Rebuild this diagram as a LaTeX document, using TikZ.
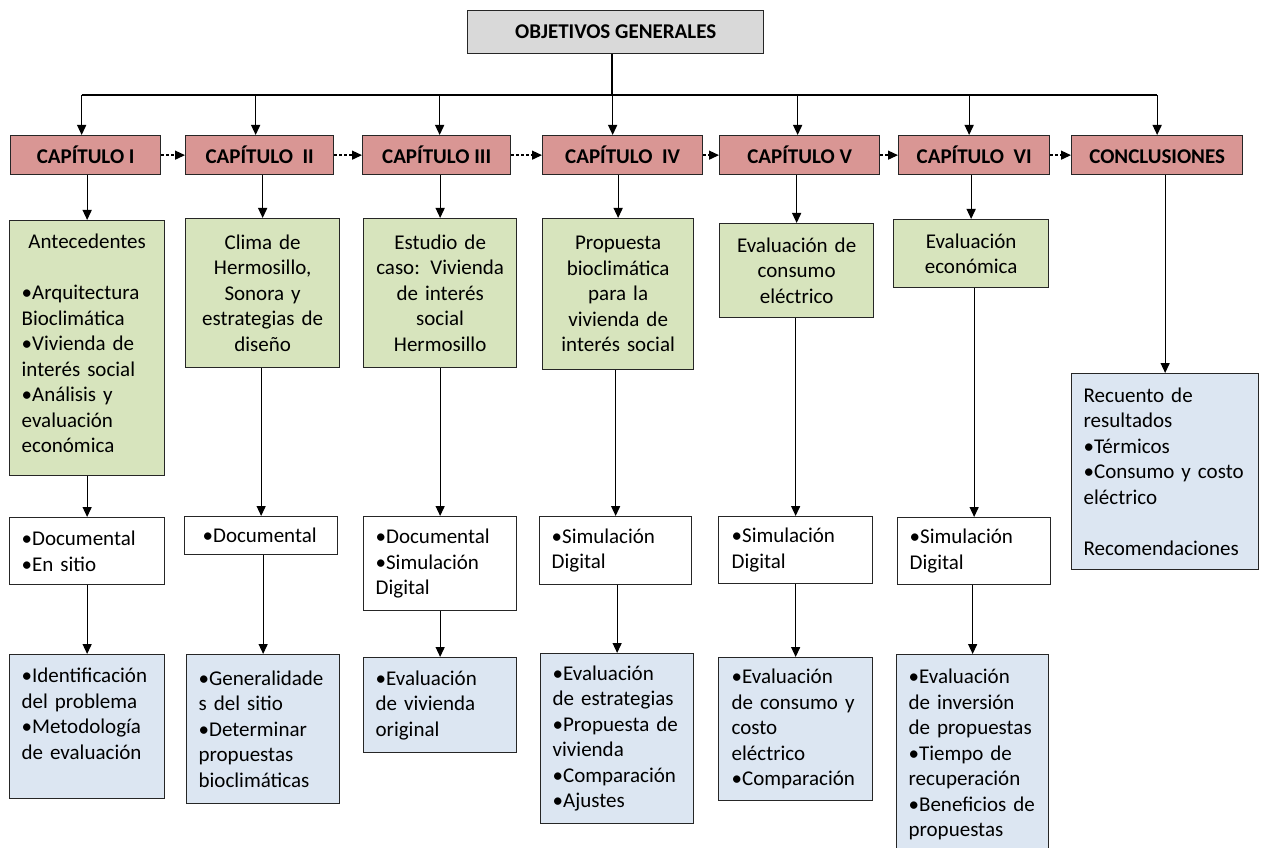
\documentclass[tikz,border=0pt]{standalone}
\usepackage{fontspec}
\setmainfont{Carlito}
\usetikzlibrary{arrows.meta}
\definecolor{chapred}{HTML}{D99694}
\definecolor{boxgreen}{HTML}{D7E4BD}
\definecolor{boxblue}{HTML}{DCE6F2}
\definecolor{boxgray}{HTML}{D9D9D9}
\definecolor{edge}{HTML}{262626}
\begin{document}
\begin{tikzpicture}[x=1pt,y=-1pt,
  every node/.style={font=\fontsize{21}{25.5}\selectfont},
  base/.style={draw=edge, line width=1.3pt, anchor=north west, inner xsep=12pt, inner ysep=4pt},
  topbox/.style={base, fill=boxgray, font=\fontsize{21}{25.5}\selectfont\bfseries, align=center},
  chap/.style={base, fill=chapred, font=\fontsize{21}{25.5}\selectfont\bfseries, align=center, inner xsep=2pt, inner ysep=0pt, text height=18pt, text depth=1pt},
  gbox/.style={base, fill=boxgreen, align=center},
  wbox/.style={base, fill=white, align=left},
  bbox/.style={base, fill=boxblue, align=left},
  conn/.style={line width=1.3pt, draw=black, -{Triangle[length=10pt,width=9pt]}},
  dconn/.style={conn, dash pattern=on 3pt off 2pt},
  plain/.style={line width=1.3pt, draw=black}
]
\fill[white] (0,0) rectangle (1262,848);
\useasboundingbox (0,0) rectangle (1262,848);
\clip (0,0) rectangle (1262,848);

% top
\node[topbox, minimum width=296, minimum height=43] (top) at (467,10) {OBJETIVOS GENERALES};

% chapters
\node[chap, minimum width=150, minimum height=39] (c1) at (10,135) {CAPÍTULO I};
\node[chap, minimum width=148, minimum height=39] (c2) at (185,135) {CAPÍTULO\ \ II};
\node[chap, minimum width=148, minimum height=39] (c3) at (362,135) {CAPÍTULO III};
\node[chap, minimum width=160, minimum height=39] (c4) at (542,135) {CAPÍTULO\ \ IV};
\node[chap, minimum width=160, minimum height=39] (c5) at (719,135) {CAPÍTULO V};
\node[chap, minimum width=151, minimum height=39] (c6) at (898,135) {CAPÍTULO\ \ VI};
\node[chap, minimum width=171, minimum height=39] (c7) at (1071,135) {CONCLUSIONES};

% green boxes
\node[gbox, align=left, text width=131, text height=24pt, text depth=223pt] (g1) at (9,220)
  {\makebox[131pt][c]{Antecedentes}\\[25.5pt]•Arquitectura\\Bioclimática\\•Vivienda de\\interés social\\•Análisis y\\evaluación\\económica};
\node[gbox, text width=130, minimum height=149] (g2) at (185,218)
  {Clima de\\Hermosillo,\\Sonora y\\estrategias de\\diseño};
\node[gbox, text width=129, minimum height=149] (g3) at (363,218)
  {Estudio de\\caso: Vivienda\\de interés\\social\\Hermosillo};
\node[gbox, text width=127, minimum height=151] (g4) at (542,218)
  {Propuesta\\bioclimática\\para la\\vivienda de\\interés social};
\node[gbox, text width=130, minimum height=94] (g5) at (719,223)
  {Evaluación de\\consumo\\eléctrico};
\node[gbox, text width=131, minimum height=68] (g6) at (893,219)
  {Evaluación\\económica};

% white boxes
\node[wbox, text width=131, minimum height=67] (w1) at (9,517) {•Documental\\•En sitio};
\node[wbox, minimum height=38, inner xsep=18pt, text width=117] (w2) at (184,516) {•Documental};
\node[wbox, text width=129, minimum height=94] (w3) at (363,516) {•Documental\\•Simulación\\Digital};
\node[wbox, text width=128, minimum height=68] (w4) at (539,516) {•Simulación\\Digital};
\node[wbox, minimum height=67, inner xsep=13pt, text width=128] (w5) at (718,516) {•Simulación\\Digital};
\node[wbox, text width=129, minimum height=67] (w6) at (897,517) {•Simulación\\Digital};

% blue boxes
\node[bbox, text width=131, text height=24pt, text depth=112pt] (b1) at (9,654)
  {•Identificación\\del problema\\•Metodología\\de evaluación};
\node[bbox, text width=129, minimum height=149] (b2) at (186,654)
  {•Generalidade\\s del sitio\\•Determinar\\propuestas\\bioclimáticas};
\node[bbox, text width=129, minimum height=95] (b3) at (363,657)
  {•Evaluación\\de vivienda\\original};
\node[bbox, text width=129, minimum height=170] (b4) at (540,653)
  {•Evaluación\\de estrategias\\•Propuesta de\\vivienda\\•Comparación\\•Ajustes};
\node[bbox, minimum height=143, inner xsep=13pt, text width=128] (b5) at (718,657)
  {•Evaluación\\de consumo y\\costo\\eléctrico\\•Comparación};
\node[bbox, text width=128, text height=25pt, text depth=220pt] (b6) at (896,654)
  {•Evaluación\\de inversión\\de propuestas\\•Tiempo de\\recuperación\\•Beneficios de\\propuestas};
\node[bbox, text width=163, minimum height=196] (b7) at (1071,373)
  {Recuento de\\resultados\\•Térmicos\\•Consumo y costo\\eléctrico\\[25.5pt]Recomendaciones};

% trunk
\coordinate (bar) at (612,95);
\draw[plain] (top.south -| bar) -- (bar);
\draw[plain] ([xshift=-4pt]c1.north |- bar) -- (c7.north |- bar);
\draw[conn] ([xshift=-4pt]c1.north |- bar) -- ([xshift=-4pt]c1.north);
\draw[conn] ([xshift=-4pt]c2.north |- bar) -- ([xshift=-4pt]c2.north);
\draw[conn] ([xshift=3pt]c3.north |- bar) -- ([xshift=3pt]c3.north);
\draw[conn] ([xshift=-10pt]c4.north |- bar) -- ([xshift=-10pt]c4.north);
\draw[conn] ([xshift=-2pt]c5.north |- bar) -- ([xshift=-2pt]c5.north);
\draw[conn] ([xshift=-5pt]c6.north |- bar) -- ([xshift=-5pt]c6.north);
\draw[conn] (c7.north |- bar) -- (c7.north);

% chapter sequence
\draw[dconn] (c1.east) -- (c2.west);
\draw[dconn] (c2.east) -- (c3.west);
\draw[dconn] (c3.east) -- (c4.west);
\draw[dconn] (c4.east) -- (c5.west);
\draw[dconn] (c5.east) -- (c6.west);
\draw[dconn] (c6.east) -- (c7.west);

% columns
\foreach \c/\g in {c1/g1,c2/g2,c3/g3,c4/g4,c5/g5,c6/g6}
  \draw[conn] (\g.north |- \c.south) -- (\g.north);
\foreach \g/\w in {g1/w1,g2/w2,g3/w3,g4/w4,g5/w5,g6/w6}
  \draw[conn] (\w.north |- \g.south) -- (\w.north);
\foreach \w/\b in {w1/b1,w2/b2,w3/b3,w4/b4,w5/b5,w6/b6}
  \draw[conn] (\b.north |- \w.south) -- (\b.north);
\draw[conn] (b7.north |- c7.south) -- (b7.north);
\end{tikzpicture}
\end{document}
